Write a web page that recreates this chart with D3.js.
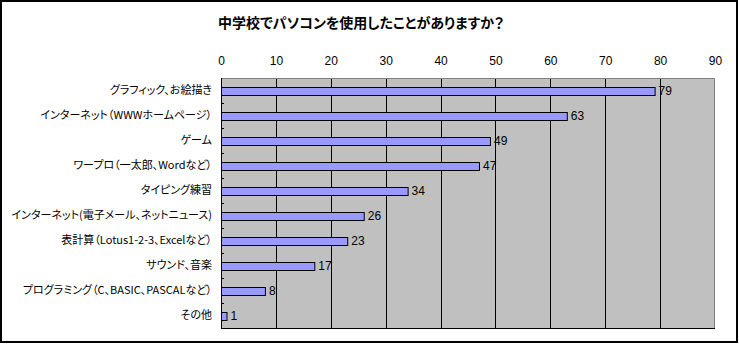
<!DOCTYPE html>
<html>
<head>
<meta charset="utf-8">
<script src="https://cdn.jsdelivr.net/npm/d3@7"></script>
<style>
  html, body { margin: 0; padding: 0; background: #fff; }
  svg { display: block; }
  text { font-family: "Noto Sans CJK JP", "Noto Sans", sans-serif; font-feature-settings: "palt"; }
</style>
</head>
<body>
<svg id="chart" width="739" height="344"></svg>
<script>
// Survey: "Have you used a computer at junior high school?"
const categories = [
  "グラフィック、お絵描き",
  "インターネット（WWWホームページ）",
  "ゲーム",
  "ワープロ（一太郎、Wordなど）",
  "タイピング練習",
  "インターネット(電子メール、ネットニュース)",
  "表計算（Lotus1-2-3、Excelなど）",
  "サウンド、音楽",
  "プログラミング（C、BASIC、PASCALなど）",
  "その他"
];
const values = [79, 63, 49, 47, 34, 26, 23, 17, 8, 1];
const tickValues = [0, 10, 20, 30, 40, 50, 60, 70, 80, 90];
const title = "中学校でパソコンを使用したことがありますか？";

const svg = d3.select("#chart");
const W = 739, H = 344;

// chart frame
svg.append("rect")
  .attr("x", 1).attr("y", 1).attr("width", 736).attr("height", 341)
  .attr("fill", "#fff").attr("stroke", "#000").attr("stroke-width", 2);

const plot = { left: 221, top: 78, right: 715, bottom: 328 };

const x = d3.scaleLinear().domain([0, 90]).range([plot.left, plot.right]);
const y = d3.scaleBand().domain(categories).range([plot.top, plot.bottom]).paddingInner(0).paddingOuter(0);
const barH = 8;

// plot background
svg.append("rect")
  .attr("x", plot.left).attr("y", plot.top)
  .attr("width", plot.right - plot.left).attr("height", plot.bottom - plot.top)
  .attr("fill", "#c0c0c0");

// vertical gridlines
svg.append("g")
  .selectAll("line")
  .data(tickValues.filter(v => v > 0 && v < 90))
  .join("line")
  .attr("x1", d => Math.round(x(d)) + 0.5).attr("x2", d => Math.round(x(d)) + 0.5)
  .attr("y1", plot.top).attr("y2", plot.bottom)
  .attr("stroke", "#000").attr("stroke-width", 1);

// top and right plot border (grey)
svg.append("path")
  .attr("d", `M${plot.left},${plot.top + 0.5}H${plot.right - 0.5}V${plot.bottom}`)
  .attr("fill", "none").attr("stroke", "#808080").attr("stroke-width", 1);

// top value axis labels
const xAxis = d3.axisTop(x).tickValues(tickValues).tickSize(0).tickPadding(0);
const gx = svg.append("g").attr("transform", `translate(0,65)`).call(xAxis);
gx.select(".domain").remove();
gx.selectAll("text")
  .attr("font-size", 12)
  .attr("fill", "#000")
  .style("font-family", "'Liberation Sans', 'DejaVu Sans', sans-serif");

// bars
svg.append("g")
  .selectAll("rect")
  .data(values)
  .join("rect")
  .attr("x", x(0) + 0.5)
  .attr("y", (d, i) => Math.round(y(categories[i]) + y.bandwidth() / 2 - barH / 2) + 0.5)
  .attr("width", d => x(d) - x(0))
  .attr("height", barH)
  .attr("fill", "#9999ff")
  .attr("stroke", "#000")
  .attr("stroke-width", 1);

// value labels
svg.append("g")
  .selectAll("text")
  .data(values)
  .join("text")
  .attr("x", d => x(d) + 4)
  .attr("y", (d, i) => y(categories[i]) + y.bandwidth() / 2)
  .attr("dy", "0.36em")
  .attr("font-size", 12)
  .style("font-family", "'Liberation Sans', 'DejaVu Sans', sans-serif")
  .attr("fill", "#000")
  .text(d => d);

// left category axis with inward ticks at band boundaries
const boundaries = d3.range(categories.length + 1).map(i => plot.top + i * y.bandwidth());
svg.append("g")
  .selectAll("line")
  .data(boundaries.slice(1, -1))
  .join("line")
  .attr("x1", plot.left).attr("x2", plot.left + 3)
  .attr("y1", d => Math.round(d) + 0.5).attr("y2", d => Math.round(d) + 0.5)
  .attr("stroke", "#000");
svg.append("line")
  .attr("x1", plot.left + 0.5).attr("x2", plot.left + 0.5)
  .attr("y1", plot.top).attr("y2", plot.bottom + 0.5)
  .attr("stroke", "#000");
svg.append("line")
  .attr("x1", plot.left).attr("x2", plot.right)
  .attr("y1", plot.bottom + 0.5).attr("y2", plot.bottom + 0.5)
  .attr("stroke", "#000");

// category labels
svg.append("g")
  .selectAll("text")
  .data(categories)
  .join("text")
  .attr("x", 212)
  .attr("y", d => y(d) + y.bandwidth() / 2)
  .attr("dy", "0.36em")
  .attr("text-anchor", "end")
  .attr("font-size", 11)
  .attr("fill", "#000")
  .text(d => d);

// title
svg.append("text")
  .attr("x", 361).attr("y", 28)
  .attr("text-anchor", "middle")
  .attr("font-size", 14)
  .attr("font-weight", "bold")
  .attr("fill", "#000")
  .text(title);
</script>
</body>
</html>
